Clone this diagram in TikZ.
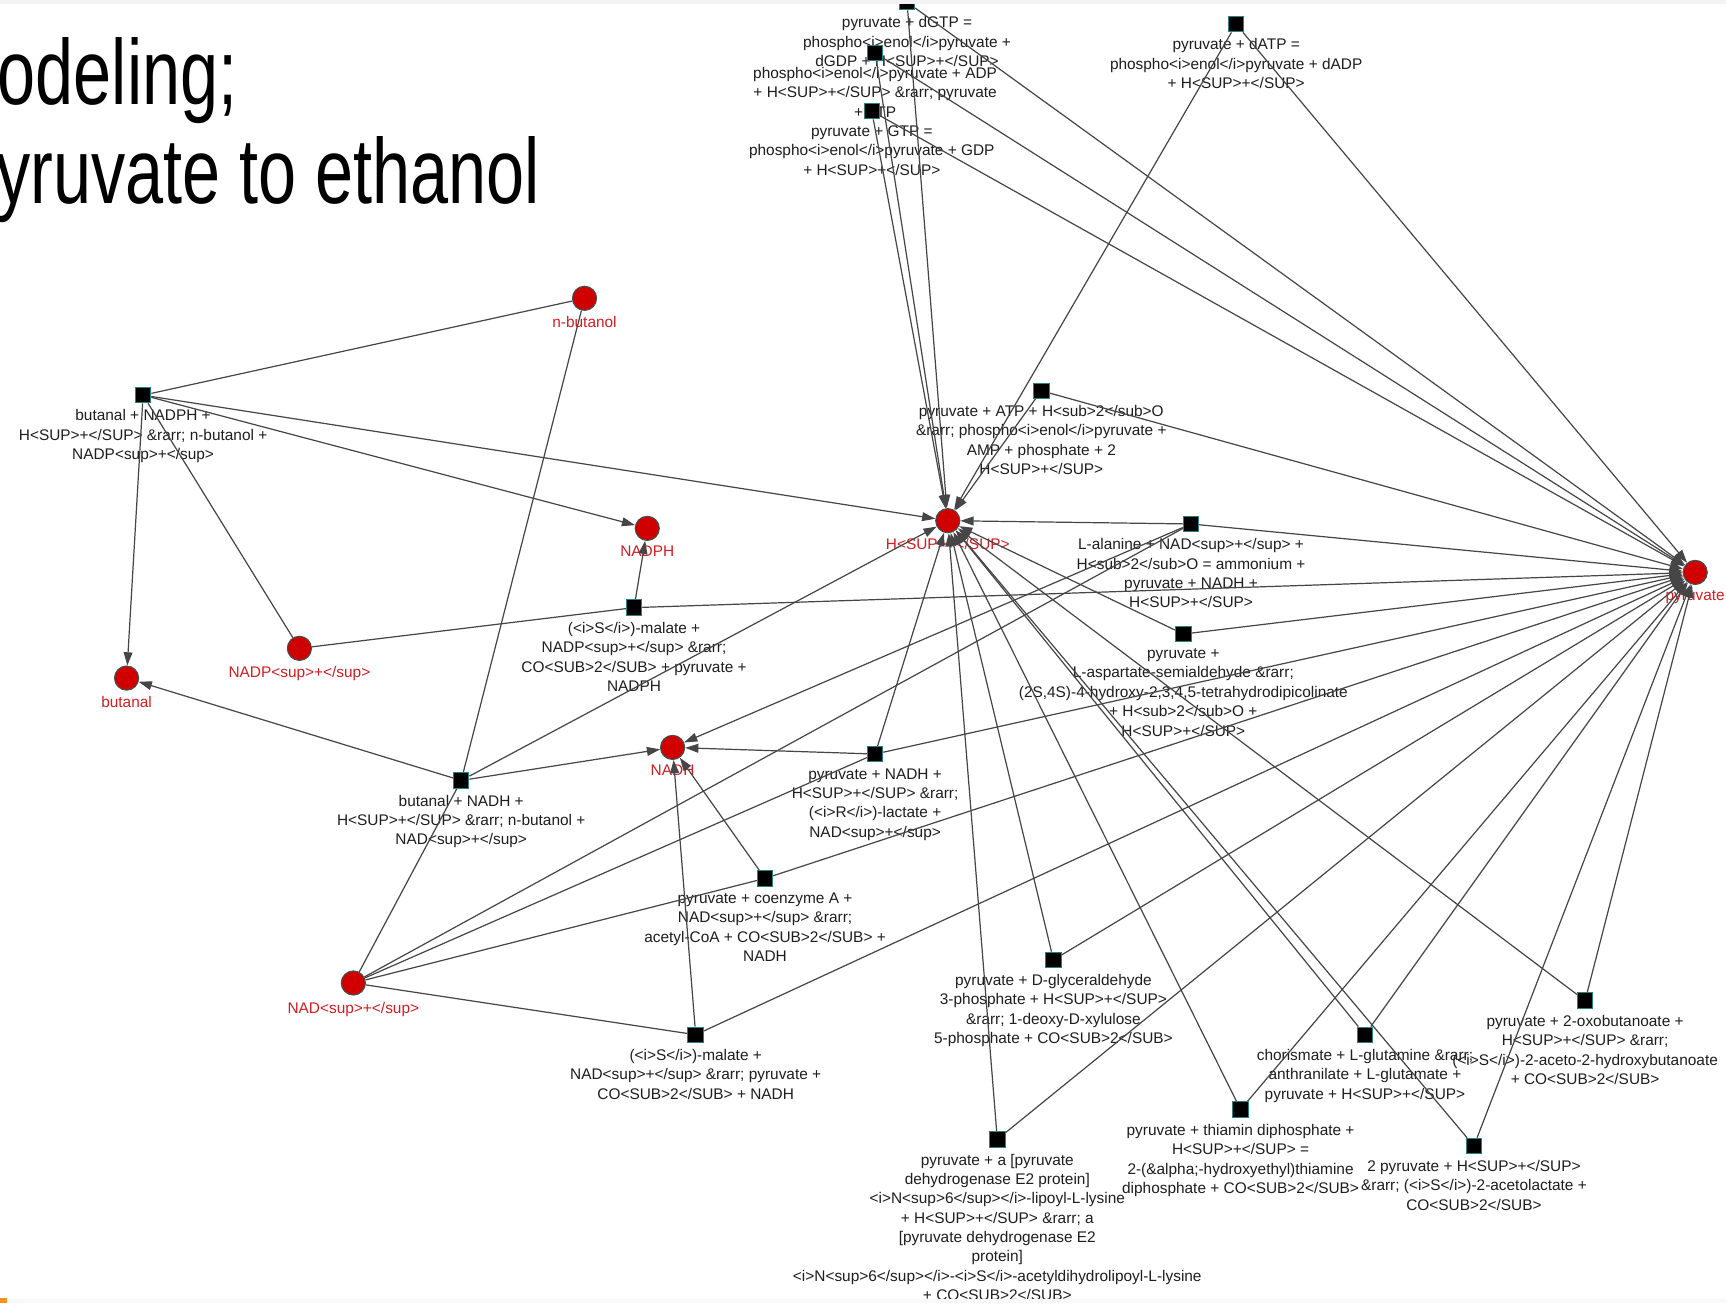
\documentclass[tikz,border=0pt]{standalone}
\usepackage{fontspec}
\setmainfont{Liberation Sans}
\newfontfamily\titlefont[FakeStretch=0.74]{Liberation Sans}
\usetikzlibrary{arrows.meta}
\definecolor{metfill}{RGB}{208,0,0}
\definecolor{metborder}{RGB}{50,90,90}
\definecolor{metlabel}{RGB}{210,30,35}
\definecolor{rxnborder}{RGB}{40,130,130}
\definecolor{labtext}{RGB}{30,30,30}
\definecolor{edgecol}{RGB}{70,70,70}
\definecolor{topband}{RGB}{242,242,242}
\definecolor{botband}{RGB}{248,248,244}
\definecolor{orangemark}{RGB}{240,150,30}
\pgfdeclarelayer{bg}
\pgfdeclarelayer{labels}
\pgfdeclarelayer{edges}
\pgfsetlayers{bg,labels,edges,main}
\begin{document}
\begin{tikzpicture}[x=1pt,y=-1pt,
  met/.style={circle, fill=metfill, draw=metborder, line width=0.9pt, minimum size=22pt, inner sep=0pt},
  rxn/.style={rectangle, fill=black, draw=rxnborder, line width=0.9pt, minimum size=14pt, inner sep=0pt},
  metlab/.style={anchor=north, text=metlabel, font=\fontsize{14}{17.6}\selectfont, inner sep=0pt, align=center},
  rxnlab/.style={anchor=north, text=labtext, font=\fontsize{14}{17.6}\selectfont, inner sep=0pt, align=center},
  conn/.style={draw=edgecol, line width=1.1pt},
  conna/.style={conn, -{Triangle[length=12pt,width=8pt]}},
  titletext/.style={font=\titlefont\fontsize{84}{90}\selectfont, inner sep=0pt, anchor=base east, text=black}
]
\useasboundingbox (0,0) rectangle (1568,1184);
\begin{pgfonlayer}{bg}
\fill[white] (0,0) rectangle (1568,1184);
\end{pgfonlayer}

% title
\node[titletext] (title1) at (216,95) {odeling;};
\node[titletext] (title2) at (491,185) {yruvate to ethanol};

% metabolites
\node[met] (nbut) at (531,271) {};
\node[met] (nadph) at (588,480) {};
\node[met] (hplus) at (861,473) {};
\node[met] (pyr) at (1540,520) {};
\node[met] (nadp) at (272,589) {};
\node[met] (butanal) at (115,616) {};
\node[met] (nadh) at (611,679) {};
\node[met] (nad) at (321,893) {};

% reactions
\node[rxn] (r1) at (130,359) {};
\node[rxn] (r2) at (576,552) {};
\node[rxn] (r3) at (419,709) {};
\node[rxn] (r4) at (795,685) {};
\node[rxn] (r5) at (695,798) {};
\node[rxn] (r6) at (632,940) {};
\node[rxn] (r7) at (957,872) {};
\node[rxn] (r8) at (906,1035) {};
\node[rxn] (r9) at (1127,1008) {};
\node[rxn] (r10) at (1240,940) {};
\node[rxn] (r11) at (1440,909) {};
\node[rxn] (r12) at (1339,1041) {};
\node[rxn] (r13) at (1075,576) {};
\node[rxn] (r14) at (1082,476) {};
\node[rxn] (r15) at (946,355) {};
\node[rxn] (r16) at (1123,22) {};
\node[rxn] (r17) at (824,2) {};
\node[rxn] (r18) at (795,48) {};
\node[rxn] (r19) at (792,101) {};

\begin{pgfonlayer}{labels}
\node[metlab] (tnbut) at ([yshift=-16pt]nbut.center) {n-butanol};
\node[metlab] (tnadph) at ([yshift=-16pt]nadph.center) {NADPH};
\node[metlab] (thplus) at ([yshift=-16pt]hplus.center) {H<SUP>+</SUP>};
\node[metlab] (tpyr) at ([yshift=-16pt]pyr.center) {pyruvate};
\node[metlab] (tnadp) at ([yshift=-16pt]nadp.center) {NADP<sup>+</sup>};
\node[metlab] (tbutanal) at ([yshift=-16pt]butanal.center) {butanal};
\node[metlab] (tnadh) at ([yshift=-16pt]nadh.center) {NADH};
\node[metlab] (tnad) at ([yshift=-17pt]nad.center) {NAD<sup>+</sup>};

\node[rxnlab] (t1) at ([yshift=-13pt]r1.center) {butanal + NADPH +\\H<SUP>+</SUP> \&rarr; n-butanol +\\NADP<sup>+</sup>};
\node[rxnlab] (t2) at ([yshift=-13pt]r2.center) {(<i>S</i>)-malate +\\NADP<sup>+</sup> \&rarr;\\CO<SUB>2</SUB> + pyruvate +\\NADPH};
\node[rxnlab] (t3) at ([yshift=-13pt]r3.center) {butanal + NADH +\\H<SUP>+</SUP> \&rarr; n-butanol +\\NAD<sup>+</sup>};
\node[rxnlab] (t4) at ([yshift=-13pt]r4.center) {pyruvate + NADH +\\H<SUP>+</SUP> \&rarr;\\(<i>R</i>)-lactate +\\NAD<sup>+</sup>};
\node[rxnlab] (t5) at ([yshift=-13pt]r5.center) {pyruvate + coenzyme A +\\NAD<sup>+</sup> \&rarr;\\acetyl-CoA + CO<SUB>2</SUB> +\\NADH};
\node[rxnlab] (t6) at ([yshift=-13pt]r6.center) {(<i>S</i>)-malate +\\NAD<sup>+</sup> \&rarr; pyruvate +\\CO<SUB>2</SUB> + NADH};
\node[rxnlab] (t7) at ([yshift=-13pt]r7.center) {pyruvate + D-glyceraldehyde\\3-phosphate + H<SUP>+</SUP>\\\&rarr; 1-deoxy-D-xylulose\\5-phosphate + CO<SUB>2</SUB>};
\node[rxnlab] (t8) at ([yshift=-13pt]r8.center) {pyruvate + a [pyruvate\\dehydrogenase E2 protein]\\<i>N<sup>6</sup></i>-lipoyl-L-lysine\\+ H<SUP>+</SUP> \&rarr; a\\{}[pyruvate dehydrogenase E2\\protein]\\<i>N<sup>6</sup></i>-<i>S</i>-acetyldihydrolipoyl-L-lysine\\+ CO<SUB>2</SUB>};
\node[rxnlab] (t9) at ([yshift=-13pt]r9.center) {pyruvate + thiamin diphosphate +\\H<SUP>+</SUP> =\\2-(\&alpha;-hydroxyethyl)thiamine\\diphosphate + CO<SUB>2</SUB>};
\node[rxnlab] (t10) at ([yshift=-13pt]r10.center) {chorismate + L-glutamine \&rarr;\\anthranilate + L-glutamate +\\pyruvate + H<SUP>+</SUP>};
\node[rxnlab] (t11) at ([yshift=-13pt]r11.center) {pyruvate + 2-oxobutanoate +\\H<SUP>+</SUP> \&rarr;\\(<i>S</i>)-2-aceto-2-hydroxybutanoate\\+ CO<SUB>2</SUB>};
\node[rxnlab] (t12) at ([yshift=-13pt]r12.center) {2 pyruvate + H<SUP>+</SUP>\\\&rarr; (<i>S</i>)-2-acetolactate +\\CO<SUB>2</SUB>};
\node[rxnlab] (t13) at ([yshift=-13pt]r13.center) {pyruvate +\\L-aspartate-semialdehyde \&rarr;\\(2S,4S)-4-hydroxy-2,3,4,5-tetrahydrodipicolinate\\+ H<sub>2</sub>O +\\H<SUP>+</SUP>};
\node[rxnlab] (t14) at ([yshift=-13pt]r14.center) {L-alanine + NAD<sup>+</sup> +\\H<sub>2</sub>O = ammonium +\\pyruvate + NADH +\\H<SUP>+</SUP>};
\node[rxnlab] (t15) at ([yshift=-13pt]r15.center) {pyruvate + ATP + H<sub>2</sub>O\\\&rarr; phospho<i>enol</i>pyruvate +\\AMP + phosphate + 2\\H<SUP>+</SUP>};
\node[rxnlab] (t16) at ([yshift=-13pt]r16.center) {pyruvate + dATP =\\phospho<i>enol</i>pyruvate + dADP\\+ H<SUP>+</SUP>};
\node[rxnlab] (t17) at ([yshift=-13pt]r17.center) {pyruvate + dGTP =\\phospho<i>enol</i>pyruvate +\\dGDP + H<SUP>+</SUP>};
\node[rxnlab] (t18) at ([yshift=-13pt]r18.center) {phospho<i>enol</i>pyruvate + ADP\\+ H<SUP>+</SUP> \&rarr; pyruvate\\+ ATP};
\node[rxnlab] (t19) at ([yshift=-13pt]r19.center) {pyruvate + GTP =\\phospho<i>enol</i>pyruvate + GDP\\+ H<SUP>+</SUP>};
\end{pgfonlayer}

\begin{pgfonlayer}{edges}
% substrate edges (no arrowhead)
\draw[conn] (nbut) -- (r1);
\draw[conn] (nadp) -- (r1);
\draw[conn] (nbut) -- (r3);
\draw[conn] (nad) -- (r3);
\draw[conn] (nadp) -- (r2);
\draw[conn] (nad) -- (r4);
\draw[conn] (nad) -- (r5);
\draw[conn] (nad) -- (r6);
\draw[conn] (nad) -- (r14);
% product edges
\draw[conna] (r1) -- (butanal);
\draw[conna] (r1) -- (nadph);
\draw[conna] (r1) -- (hplus);
\draw[conna] (r2) -- (nadph);
\draw[conna] (r2) -- (pyr);
\draw[conna] (r3) -- (butanal);
\draw[conna] (r3) -- (nadh);
\draw[conna] (r3) -- (hplus);
\draw[conna] (r4) -- (nadh);
\draw[conna] (r4) -- (hplus);
\draw[conna] (r4) -- (pyr);
\draw[conna] (r5) -- (nadh);
\draw[conna] (r5) -- (pyr);
\draw[conna] (r6) -- (nadh);
\draw[conna] (r6) -- (pyr);
\draw[conna] (r14) -- (nadh);
\draw[conna] (r14) -- (hplus);
\draw[conna] (r14) -- (pyr);
\foreach \r in {r7,r8,r9,r10,r11,r12,r13,r15,r16,r17,r18,r19}{
  \draw[conna] (\r) -- (hplus);
  \draw[conna] (\r) -- (pyr);
}
\end{pgfonlayer}

% page edge strips
\fill[topband] (0,0) rectangle (1568,4);
\fill[botband] (0,1180) rectangle (1568,1184);
\fill[orangemark] (0,1179) rectangle (6,1184);
\end{tikzpicture}
\end{document}
